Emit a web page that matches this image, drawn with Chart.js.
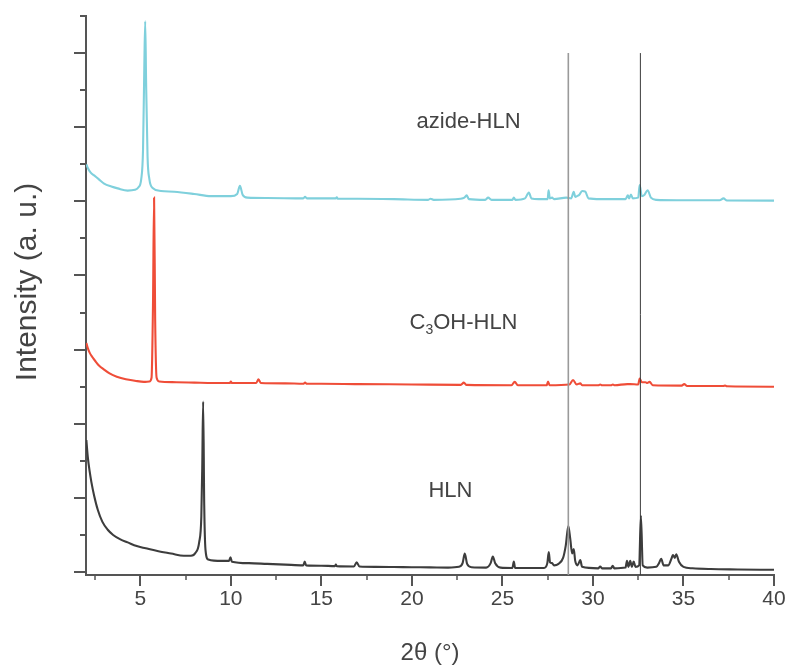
<!DOCTYPE html>
<html>
<head>
<meta charset="utf-8">
<script src="https://cdn.jsdelivr.net/npm/chart.js@4.4.1/dist/chart.umd.min.js"></script>
<style>
  html, body { margin: 0; padding: 0; background: #ffffff; }
  #wrap { width: 790px; height: 666px; }
</style>
</head>
<body>
<div id="wrap"><canvas id="c" width="790" height="666"></canvas></div>
<script>
// ---- data (2θ in degrees, intensity in stacked arbitrary units) ----
const hlnX = [2.02,2.1,2.2,2.3,2.45,2.65,2.9,3.2,3.5,3.9,4.3,4.8,5.3,6.0,6.7,7.4,7.8,8.05,8.25,8.37,8.42,8.47,8.53,8.6,8.75,9.5,9.9,9.98,10.06,11,12,13,14.0,14.08,14.16,15.0,15.75,15.8,15.85,16.8,16.95,17.1,18,19,20,21,22,22.6,22.8,22.92,23.05,23.3,24.1,24.35,24.47,24.6,24.9,25.55,25.63,25.7,27.3,27.48,27.56,27.63,27.74,27.85,28.1,28.35,28.5,28.64,28.75,28.85,28.94,29.02,29.15,29.3,29.4,30.3,30.4,30.5,31.0,31.09,31.18,31.8,31.88,31.96,32.06,32.15,32.25,32.35,32.55,32.65,32.75,33.0,33.5,33.65,33.77,33.9,34.15,34.35,34.42,34.52,34.6,34.75,35.0,35.5,36.5,38,40];
const hlnY = [1.78,1.55,1.36,1.21,1.03,0.84,0.68,0.57,0.50,0.44,0.40,0.35,0.32,0.28,0.25,0.22,0.22,0.26,0.40,0.75,1.40,2.30,0.90,0.30,0.17,0.15,0.15,0.20,0.14,0.12,0.11,0.10,0.09,0.14,0.09,0.085,0.08,0.10,0.08,0.075,0.13,0.075,0.07,0.068,0.065,0.063,0.06,0.07,0.12,0.25,0.11,0.065,0.06,0.12,0.21,0.12,0.06,0.055,0.14,0.055,0.055,0.12,0.27,0.13,0.12,0.09,0.11,0.19,0.36,0.62,0.44,0.25,0.31,0.15,0.09,0.16,0.07,0.05,0.075,0.05,0.05,0.085,0.05,0.06,0.15,0.07,0.15,0.07,0.14,0.07,0.09,0.76,0.09,0.06,0.07,0.12,0.18,0.09,0.09,0.19,0.23,0.19,0.24,0.14,0.07,0.05,0.04,0.035,0.03];

const c3ohX = [2.02,2.1,2.2,2.35,2.5,2.7,3.0,3.3,3.7,4.2,4.7,5.2,5.5,5.62,5.7,5.76,5.82,5.9,6.05,7,8,9,9.95,10.0,10.05,11.4,11.53,11.65,13,14.0,14.1,14.2,15,17,20,22.7,22.87,23.0,25.5,25.68,25.85,27.45,27.52,27.6,28.7,28.9,29.1,29.3,29.4,30.3,30.4,30.5,31.0,31.1,31.2,31.9,32.05,32.5,32.58,32.7,32.9,33.0,33.13,33.3,34.9,35.04,35.2,37.2,37.3,37.4,40];
const c3ohY = [3.09,3.02,2.96,2.90,2.85,2.79,2.73,2.68,2.635,2.60,2.58,2.565,2.57,2.62,3.6,5.05,3.4,2.62,2.57,2.56,2.555,2.55,2.55,2.57,2.55,2.55,2.60,2.55,2.545,2.54,2.555,2.54,2.54,2.535,2.53,2.525,2.555,2.525,2.52,2.567,2.52,2.52,2.57,2.52,2.53,2.59,2.53,2.545,2.52,2.52,2.53,2.52,2.52,2.53,2.52,2.535,2.535,2.53,2.61,2.56,2.56,2.55,2.565,2.52,2.515,2.535,2.51,2.51,2.515,2.505,2.50];

const azideX = [2.02,2.1,2.25,2.45,2.7,3.0,3.4,3.75,4.3,4.7,4.9,5.05,5.15,5.22,5.27,5.32,5.4,5.5,5.68,6.14,6.87,7.97,8.9,10.0,10.35,10.5,10.65,10.92,12,14.0,14.1,14.2,15.8,15.85,15.9,17,19,20.9,21.03,21.2,22.69,22.9,23.02,23.15,24.05,24.21,24.4,25.55,25.63,25.72,26.25,26.46,26.6,27.0,27.5,27.55,27.62,27.74,27.85,28.53,28.8,28.94,29.02,29.12,29.25,29.4,29.58,29.75,30.41,31.1,31.8,31.93,32.0,32.1,32.2,32.5,32.58,32.7,32.85,33.02,33.2,33.5,34.64,37.0,37.21,37.4,40];
const azideY = [5.50,5.45,5.39,5.35,5.30,5.24,5.20,5.175,5.145,5.155,5.19,5.30,5.70,6.80,7.43,6.60,5.60,5.30,5.18,5.14,5.13,5.10,5.07,5.07,5.10,5.21,5.09,5.05,5.045,5.04,5.06,5.04,5.04,5.055,5.035,5.035,5.03,5.02,5.036,5.02,5.035,5.05,5.08,5.03,5.02,5.05,5.02,5.02,5.05,5.02,5.04,5.12,5.04,5.03,5.03,5.15,5.04,5.05,5.03,5.05,5.04,5.13,5.06,5.07,5.09,5.14,5.13,5.04,5.03,5.03,5.03,5.08,5.04,5.09,5.04,5.05,5.22,5.07,5.09,5.15,5.05,5.02,5.015,5.015,5.04,5.012,5.01];

// reference lines (2θ positions)
const refLineX = [28.64, 32.62];
const refLineTop = 7.0;

// tick values
const xMajorTicks = [5,10,15,20,25,30,35,40];
const xMinorTicks = [2.5,7.5,12.5,17.5,22.5,27.5,32.5,37.5];
const yMajorTicks = [0,1,2,3,4,5,6,7];
const yMinorTicks = [0.5,1.5,2.5,3.5,4.5,5.5,6.5,7.5];

const seriesNames = ['HLN', 'C3OH-HLN', 'azide-HLN'];

function pts(xs, ys) { return xs.map((x, i) => ({ x: x, y: ys[i] })); }

const FONT = "'Liberation Sans', Arial, Helvetica, sans-serif";
const TEXT = '#444444';
const AXIS = '#555555';

const decor = {
  id: 'decor',
  afterDatasetsDraw(chart) {
    const ctx = chart.ctx;
    const xs = chart.scales.x, ys = chart.scales.y;
    const area = chart.chartArea;
    ctx.save();
    ctx.strokeStyle = AXIS;
    ctx.lineCap = 'butt';
    // x ticks (outside, downward)
    ctx.lineWidth = 2;
    xMajorTicks.forEach(v => {
      const p = Math.round(xs.getPixelForValue(v));
      ctx.beginPath(); ctx.moveTo(p, area.bottom); ctx.lineTo(p, area.bottom + 11); ctx.stroke();
    });
    ctx.lineWidth = 1.5;
    xMinorTicks.forEach(v => {
      const p = Math.round(xs.getPixelForValue(v));
      ctx.beginPath(); ctx.moveTo(p, area.bottom); ctx.lineTo(p, area.bottom + 5); ctx.stroke();
    });
    // y ticks (outside, leftward)
    ctx.lineWidth = 2;
    yMajorTicks.forEach(v => {
      const p = Math.round(ys.getPixelForValue(v));
      ctx.beginPath(); ctx.moveTo(area.left, p); ctx.lineTo(area.left - 12, p); ctx.stroke();
    });
    yMinorTicks.forEach(v => {
      const p = Math.round(ys.getPixelForValue(v));
      ctx.beginPath(); ctx.moveTo(area.left, p); ctx.lineTo(area.left - 6, p); ctx.stroke();
    });

    // y axis title
    ctx.fillStyle = TEXT;
    ctx.save();
    ctx.translate(28, 282);
    ctx.rotate(-Math.PI / 2);
    ctx.font = '30px ' + FONT;
    ctx.textAlign = 'center';
    ctx.textBaseline = 'middle';
    ctx.fillText('Intensity (a. u.)', 0, 0);
    ctx.restore();

    // series labels
    ctx.textBaseline = 'middle';
    ctx.textAlign = 'left';
    const big = '22px ' + FONT, small = '14px ' + FONT;
    function label(parts, cx, cy) {
      let w = 0;
      parts.forEach(pt => { ctx.font = pt.sub ? small : big; w += ctx.measureText(pt.t).width; });
      let x = cx - w / 2;
      parts.forEach(pt => {
        ctx.font = pt.sub ? small : big;
        ctx.fillText(pt.t, x, cy + (pt.sub ? 7 : 0));
        x += ctx.measureText(pt.t).width;
      });
    }
    label([{ t: 'azide-HLN' }], xs.getPixelForValue(23.13), ys.getPixelForValue(6.07));
    label([{ t: 'C' }, { t: '3', sub: true }, { t: 'OH-HLN' }], xs.getPixelForValue(22.85), ys.getPixelForValue(3.36));
    label([{ t: 'HLN' }], xs.getPixelForValue(22.13), ys.getPixelForValue(1.09));
    ctx.restore();
  }
};

const refDatasets = refLineX.map((x, i) => ({
  label: 'ref' + i,
  data: [{ x: x, y: -0.05 }, { x: x, y: refLineTop }],
  borderColor: i === 0 ? '#9a9a9a' : '#3a3a3a',
  borderWidth: i === 0 ? 1.6 : 1,
  pointRadius: 0,
  fill: false
}));

const lineStyle = { pointRadius: 0, borderWidth: 2.1, cubicInterpolationMode: 'monotone', fill: false };

new Chart(document.getElementById('c'), {
  type: 'line',
  data: {
    datasets: [
      ...refDatasets,
      Object.assign({ label: seriesNames[2], data: pts(azideX, azideY), borderColor: '#7fd0dc' }, lineStyle),
      Object.assign({ label: seriesNames[1], data: pts(c3ohX, c3ohY), borderColor: '#ef4d38' }, lineStyle),
      Object.assign({ label: seriesNames[0], data: pts(hlnX, hlnY), borderColor: '#3d3d3d' }, lineStyle)
    ]
  },
  options: {
    responsive: false,
    animation: false,
    devicePixelRatio: 1,
    layout: { padding: { top: 16, right: 16, bottom: 0, left: 0 } },
    plugins: { legend: { display: false }, tooltip: { enabled: false } },
    scales: {
      x: {
        type: 'linear',
        min: 2,
        max: 40,
        afterBuildTicks: s => { s.ticks = xMajorTicks.map(v => ({ value: v })); },
        afterFit: s => { s.height = 91; s.paddingLeft = 0; s.paddingRight = 0; },
        grid: { display: false, drawTicks: false },
        border: { display: true, color: AXIS, width: 2 },
        ticks: { color: TEXT, font: { family: FONT, size: 21 }, padding: 12, maxRotation: 0, autoSkip: false },
        title: { display: true, text: '2θ (°)', color: TEXT, font: { family: FONT, size: 24, lineHeight: 1 }, padding: { top: 0, bottom: 1 } }
      },
      y: {
        type: 'linear',
        min: -0.04,
        max: 7.5,
        afterFit: s => { s.width = 86; s.paddingTop = 0; s.paddingBottom = 0; },
        grid: { display: false, drawTicks: false },
        border: { display: true, color: AXIS, width: 2 },
        ticks: { display: false },
        title: { display: false }
      }
    }
  },
  plugins: [decor]
});
</script>
</body>
</html>
